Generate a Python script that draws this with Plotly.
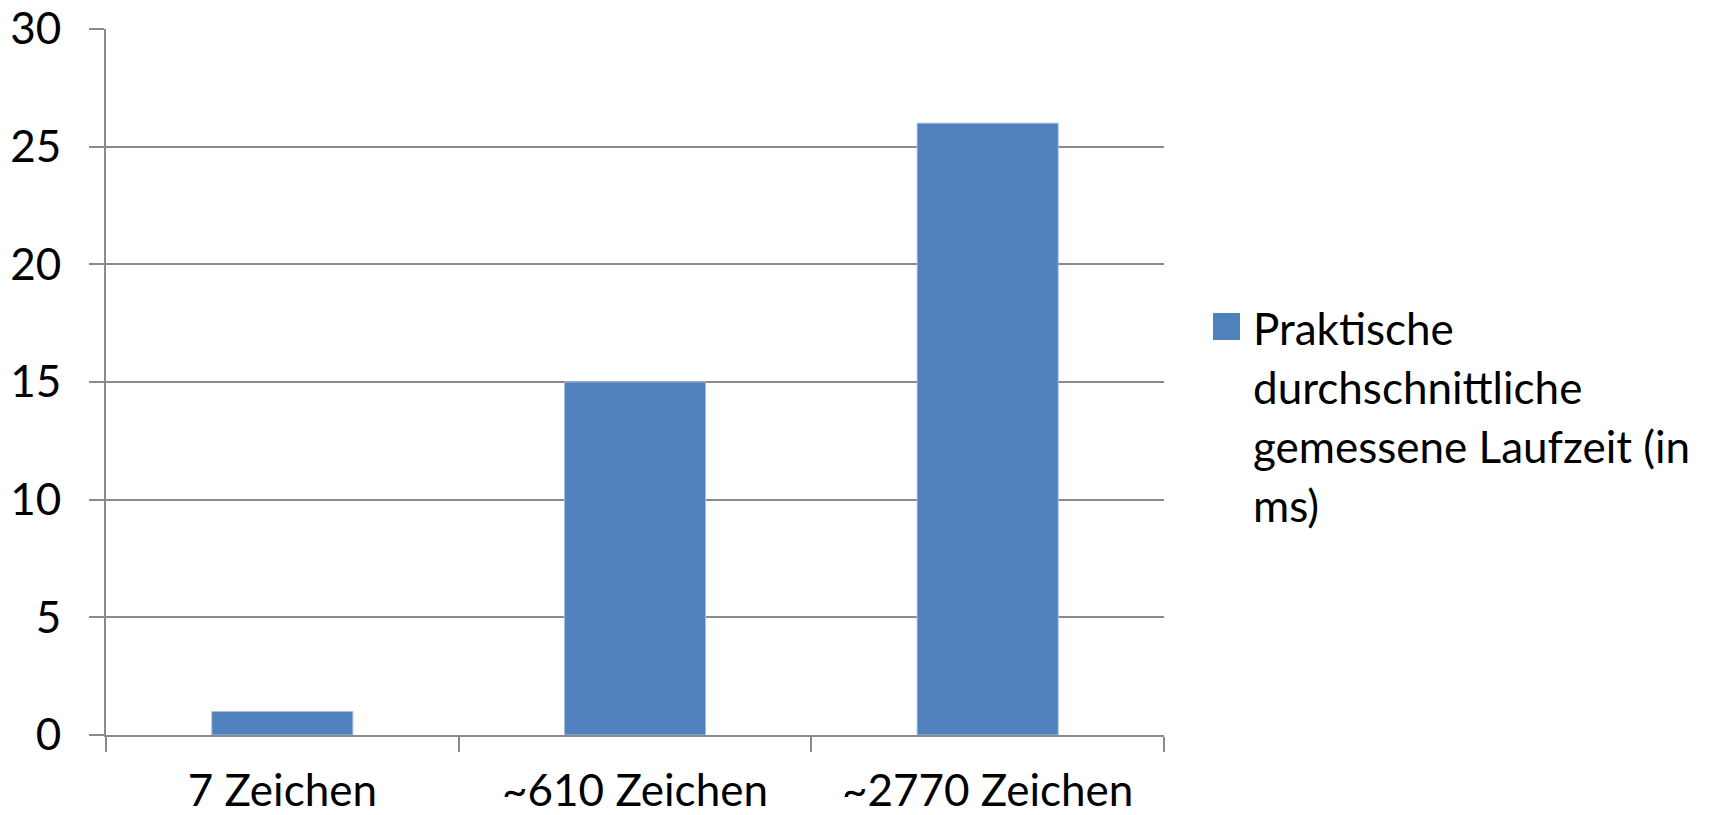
import plotly.graph_objects as go

categories = ["7 Zeichen", "~610 Zeichen", "~2770 Zeichen"]
laufzeit_ms = [1, 15, 26]
series_name_lines = ["Praktische", "durchschnittliche", "gemessene Laufzeit (in", "ms)"]
y_tick_values = [0, 5, 10, 15, 20, 25, 30]

W, H = 1711, 815
L, R, T, B = 106, 547, 29, 80
FONT = "Lato"
FS = 44
BAR = "#4F81BD"
GRID = "#8a8a8a"

pw = W - L - R
ph = H - T - B

def px_x(x):
    return (x - L) / pw

def px_y(y):
    return 1 - (y - T) / ph

fig = go.Figure()
fig.add_trace(go.Bar(
    x=categories, y=laufzeit_ms, name=" ".join(series_name_lines),
    marker=dict(color=BAR, line=dict(color="#a7bfdd", width=1)),
    showlegend=False,
))

fig.update_layout(
    width=W, height=H,
    margin=dict(l=L, r=R, t=T, b=B, autoexpand=False),
    paper_bgcolor="white", plot_bgcolor="white",
    bargap=0.6,
    font=dict(family=FONT, size=FS, color="black"),
    showlegend=False,
)
fig.update_xaxes(
    type="category", tickson="boundaries", ticks="outside", ticklen=15,
    tickwidth=2, tickcolor=GRID, showline=True, linecolor=GRID, linewidth=2,
    showgrid=False, tickfont=dict(family=FONT, size=FS), ticklabelstandoff=16,
)
fig.update_yaxes(
    range=[0, 30], tickvals=y_tick_values, ticks="outside", ticklen=15,
    tickwidth=2, tickcolor=GRID, showline=True, linecolor=GRID, linewidth=2,
    showgrid=True, gridcolor=GRID, gridwidth=2, zeroline=False,
    tickfont=dict(family=FONT, size=FS), ticklabelstandoff=19,
)

# Legend drawn manually (square + wrapped label lines)
fig.add_shape(type="rect", xref="paper", yref="paper",
              x0=px_x(1213), x1=px_x(1240), y0=px_y(340), y1=px_y(313),
              fillcolor=BAR, line=dict(width=0))
line_centers = [328, 387, 446, 505]
for txt, yc in zip(series_name_lines, line_centers):
    fig.add_annotation(text=txt, xref="paper", yref="paper",
                       x=px_x(1251), y=px_y(yc), xanchor="left", yanchor="middle",
                       showarrow=False, font=dict(family=FONT, size=FS, color="black"))

fig.write_html("out.html")
